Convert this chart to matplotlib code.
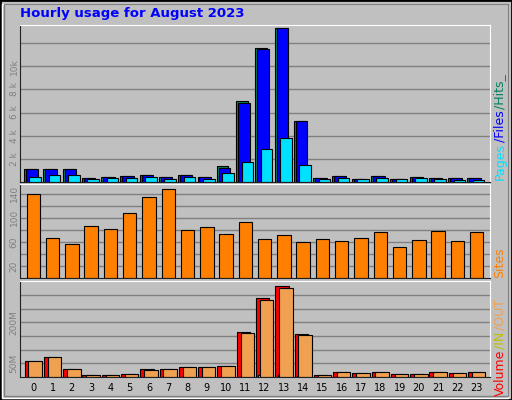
import matplotlib
matplotlib.use("Agg")
import matplotlib.pyplot as plt
from matplotlib.patches import Rectangle
import numpy as np

hours = list(range(24))
hits = [1130, 1130, 1130, 320, 400, 520, 600, 400, 600, 400, 1390, 6960,
        11540, 13280, 5280, 320, 520, 230, 520, 230, 400, 320, 320, 320]
files = [1130, 1130, 1130, 320, 400, 520, 600, 400, 600, 400, 1190, 6840,
         11450, 13280, 5280, 320, 520, 230, 520, 230, 400, 320, 320, 320]
pages = [430, 600, 600, 230, 320, 320, 400, 230, 400, 230, 750, 1710,
         2840, 3800, 1450, 230, 320, 230, 320, 230, 320, 230, 140, 140]
sites = [140, 67, 57, 87, 82, 108, 135, 147, 80, 85, 73, 93,
         65, 72, 60, 65, 62, 67, 77, 52, 63, 78, 62, 77]
volume = [57, 72, 31, 9, 9, 12, 31, 31, 35, 35, 42, 164,
          291, 335, 157, 9, 20, 16, 20, 12, 12, 20, 16, 20]  # MB
vol_in = [0, 0, 0, 0, 0, 0, 0, 0, 0, 0, 0, 0,
          8, 8, 5, 0, 0, 0, 0, 0, 0, 0, 0, 0]
vol_out = [57, 72, 31, 9, 9, 12, 27, 31, 35, 35, 42, 160,
           283, 327, 153, 9, 20, 16, 20, 12, 12, 20, 16, 20]

W, H = 512, 400
BG = '#C0C0C0'
fig = plt.figure(figsize=(W / 100, H / 100), dpi=100, facecolor=BG)

# outer bevel frame
fig.patches.append(Rectangle((0, 0), 1, 1, transform=fig.transFigure,
                             fill=False, edgecolor='black', linewidth=2))
fig.patches.append(Rectangle((2 / W, 2 / H), 1 - 6 / W, 1 - 6 / H, transform=fig.transFigure,
                             fill=False, edgecolor='white', linewidth=1))
fig.patches.append(Rectangle((4 / W, 4 / H), 1 - 8 / W, 1 - 8 / H, transform=fig.transFigure,
                             fill=False, edgecolor='#808080', linewidth=1))

fig.text(20 / W, 1 - 14 / H, 'Hourly usage for August 2023', color='#0000FF',
         fontsize=9.5, fontweight='bold', va='center', ha='left')


def panel(top, bottom):
    ax = fig.add_axes([20 / W, 1 - bottom / H, 470 / W, (bottom - top) / H])
    ax.set_facecolor(BG)
    ax.set_xlim(-0.69, 23.69)
    for s in ['top', 'right']:
        ax.spines[s].set_color('white')
    for s in ['left', 'bottom']:
        ax.spines[s].set_color('#202020')
    ax.set_xticks([])
    ax.tick_params(axis='y', length=0, labelsize=6.5, labelcolor='#808080', pad=1)
    ax.set_axisbelow(True)
    ax.yaxis.grid(True, color='#808080', linewidth=1)
    return ax


x = np.array(hours)
bw = 0.6
ec = dict(edgecolor='black', linewidth=0.8)

# top panel: hits / files / pages
ax1 = panel(25, 182)
ax1.bar(x - 0.18, hits, width=bw, color='#00805C', **ec)
ax1.bar(x - 0.08, files, width=bw, color='#0000FF', **ec)
ax1.bar(x + 0.1, pages, width=bw, color='#00E0FF', **ec)
ax1.set_ylim(0, 13560)
ax1.set_yticks([2000, 4000, 6000, 8000, 10000, 12000])
ax1.set_yticklabels(['2 k', '4 k', '6 k', '8 k', '10k', ''], rotation=90, va='center')

# middle panel: sites
ax2 = panel(184, 278)
ax2.bar(x, sites, width=0.7, color='#FF8000', **ec)
ax2.set_ylim(0, 156)
ax2.set_yticks([20, 40, 60, 80, 100, 120, 140])
ax2.set_yticklabels(['20', '', '60', '', '100', '', '140'], rotation=90, va='center')

# bottom panel: volume / in / out
ax3 = panel(281, 377)
ax3.bar(x - 0.1, volume, width=0.7, color='#FF0000', **ec)
ax3.bar(x - 0.25, vol_in, width=0.15, color='#FFFF00', **ec)
ax3.bar(x + 0.1, vol_out, width=0.7, color='#EFA050', **ec)
ax3.set_ylim(0, 352)
ax3.set_yticks([50, 100, 150, 200, 250, 300])
ax3.set_yticklabels(['50M', '', '', '200M', '', ''], rotation=90, va='center')

for h in hours:
    fig.text((20 + (h + 0.69) * 470 / 24.38) / W, 1 - 388 / H, str(h),
             fontsize=7, ha='center', va='center', color='black')

renderer = fig.canvas.get_renderer()


def vlabel(parts, y_bottom):
    # stack rotated texts upward, measuring each one
    y = y_bottom
    for txt, col in parts:
        t = fig.text(500 / W, 1 - y / H, txt, color=col, fontsize=9, rotation=90,
                     ha='center', va='bottom')
        y -= t.get_window_extent(renderer).height + 1


vlabel([('Pages', '#00E0FF'), ('/Files', '#0000FF'), ('/Hits_', '#00805C')], 180)
vlabel([('Sites', '#FF8000')], 278)
vlabel([('Volume', '#FF0000'), ('/IN', '#BFBF00'), ('/OUT', '#EFA050')], 396)

fig.savefig('out.png', dpi=100, facecolor=BG)
